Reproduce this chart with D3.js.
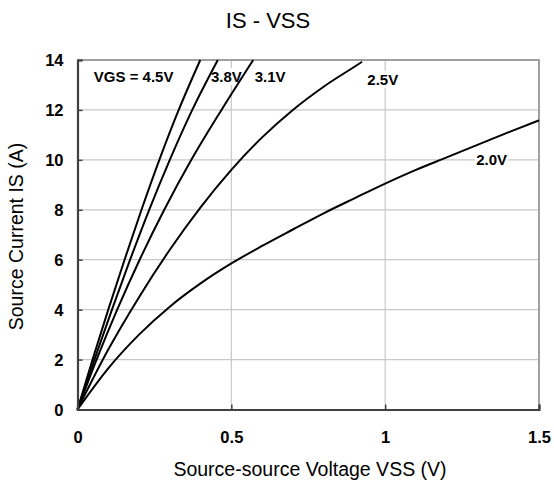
<!DOCTYPE html>
<html>
<head>
<meta charset="utf-8">
<script src="https://cdn.jsdelivr.net/npm/d3@7"></script>
<style>
  html, body { margin: 0; padding: 0; background: #fff; }
  svg { display: block; font-family: "Liberation Sans", Arial, sans-serif; }
</style>
</head>
<body>
<svg id="chart" width="554" height="485"></svg>
<script>
// Source current vs. source-source voltage, one curve per gate voltage
const seriesNames = ["4.5V", "3.8V", "3.1V", "2.5V", "2.0V"];
const vssValues = [
  [0, 0.049, 0.100, 0.153, 0.208, 0.266, 0.329, 0.399],
  [0, 0.055, 0.112, 0.171, 0.233, 0.300, 0.373, 0.456],
  [0, 0.062, 0.129, 0.202, 0.282, 0.370, 0.468, 0.571],
  [0, 0.1, 0.2, 0.3, 0.4, 0.5, 0.6, 0.7, 0.8, 0.9, 0.925],
  [0, 0.1, 0.2, 0.3, 0.4, 0.5, 0.6, 0.7, 0.8, 0.9, 1.0, 1.1, 1.2, 1.3, 1.4, 1.5]
];
const isValues = [
  [0, 2, 4, 6, 8, 10, 12, 14],
  [0, 2, 4, 6, 8, 10, 12, 14],
  [0, 2, 4, 6, 8, 10, 12, 14],
  [0, 2.4, 4.5, 6.4, 8.1, 9.6, 10.9, 12.0, 12.93, 13.73, 13.93],
  [0, 1.65, 3.0, 4.12, 5.05, 5.85, 6.55, 7.21, 7.86, 8.46, 9.05, 9.6, 10.1, 10.6, 11.1, 11.58]
];
const xTicks = [0, 0.5, 1, 1.5];
const xTickLabels = ["0", "0.5", "1", "1.5"];
const yTicks = [0, 2, 4, 6, 8, 10, 12, 14];
const curveLabels = ["VGS = 4.5V", "3.8V", "3.1V", "2.5V", "2.0V"];
// label anchor in data units (left edge, baseline)
const labelVss = [0.053, 0.434, 0.576, 0.942, 1.296];
const labelIs = [13.12, 13.12, 13.12, 13.0, 9.78];

const svg = d3.select("#chart");
const m = { left: 77.5, right: 539, top: 60, bottom: 409.5 };

const x = d3.scaleLinear().domain([0, 1.5]).range([m.left, m.right]);
const y = d3.scaleLinear().domain([0, 14]).range([m.bottom, m.top]);

// title
svg.append("text")
  .attr("x", 268).attr("y", 28)
  .attr("text-anchor", "middle")
  .attr("font-size", 22)
  .attr("fill", "#000")
  .text("IS - VSS");

// grid
const grid = svg.append("g").attr("stroke", "#c8c8c8").attr("stroke-width", 1.2);
grid.selectAll("line.h").data(yTicks.slice(1, -1)).join("line")
  .attr("x1", m.left).attr("x2", m.right)
  .attr("y1", d => y(d)).attr("y2", d => y(d));
grid.selectAll("line.v").data(xTicks.slice(1, -1)).join("line")
  .attr("y1", m.top).attr("y2", m.bottom)
  .attr("x1", d => x(d)).attr("x2", d => x(d));

// top and right frame
svg.append("path")
  .attr("d", `M${m.left},${m.top}H${m.right}V${m.bottom}`)
  .attr("fill", "none").attr("stroke", "#a0a0a0").attr("stroke-width", 2);

// curve labels with white boxes that interrupt the grid
const labels = svg.append("g")
  .attr("font-size", 15).attr("font-weight", "bold").attr("fill", "#000");
curveLabels.forEach((t, i) => {
  const tx = labels.append("text")
    .attr("x", x(labelVss[i])).attr("y", y(labelIs[i]))
    .text(t);
  const bb = tx.node().getBBox();
  labels.insert("rect", "text")
    .attr("x", bb.x - 1).attr("y", bb.y)
    .attr("width", bb.width + 2).attr("height", bb.height)
    .attr("fill", "#fff");
});

// curves
const line = d3.line()
  .x(d => x(d[0])).y(d => y(d[1]))
  .curve(d3.curveMonotoneX);
svg.append("g")
  .attr("fill", "none").attr("stroke", "#000").attr("stroke-width", 2)
  .attr("stroke-linejoin", "round")
  .selectAll("path")
  .data(seriesNames.map((n, i) => vssValues[i].map((v, j) => [v, isValues[i][j]])))
  .join("path")
  .attr("d", line);

// axes
const yAxis = d3.axisLeft(y).tickValues(yTicks).tickSize(-5).tickPadding(14)
  .tickFormat(d3.format("d"));
const gy = svg.append("g").attr("transform", `translate(${m.left},0)`).call(yAxis);
const xAxis = d3.axisBottom(x).tickValues(xTicks).tickSize(-5).tickPadding(22)
  .tickFormat((d, i) => xTickLabels[i]);
const gx = svg.append("g").attr("transform", `translate(0,${m.bottom})`).call(xAxis);
[gx, gy].forEach(g => {
  g.select(".domain").attr("stroke", "#404040").attr("stroke-width", 2.2);
  g.selectAll(".tick line").attr("stroke", "#404040").attr("stroke-width", 1.5);
  g.selectAll(".tick text")
    .attr("font-family", "Liberation Sans, Arial, sans-serif")
    .attr("font-size", 16.5).attr("font-weight", "bold").attr("fill", "#000");
});
gy.selectAll(".tick text").attr("dy", "0.36em");

// axis titles
svg.append("text")
  .attr("x", 310).attr("y", 476)
  .attr("text-anchor", "middle").attr("font-size", 19.5).attr("fill", "#000")
  .text("Source-source Voltage VSS (V)");
svg.append("text")
  .attr("transform", `translate(23,236.5) rotate(-90)`)
  .attr("text-anchor", "middle").attr("font-size", 19.5).attr("fill", "#000")
  .text("Source Current IS (A)");
</script>
</body>
</html>
